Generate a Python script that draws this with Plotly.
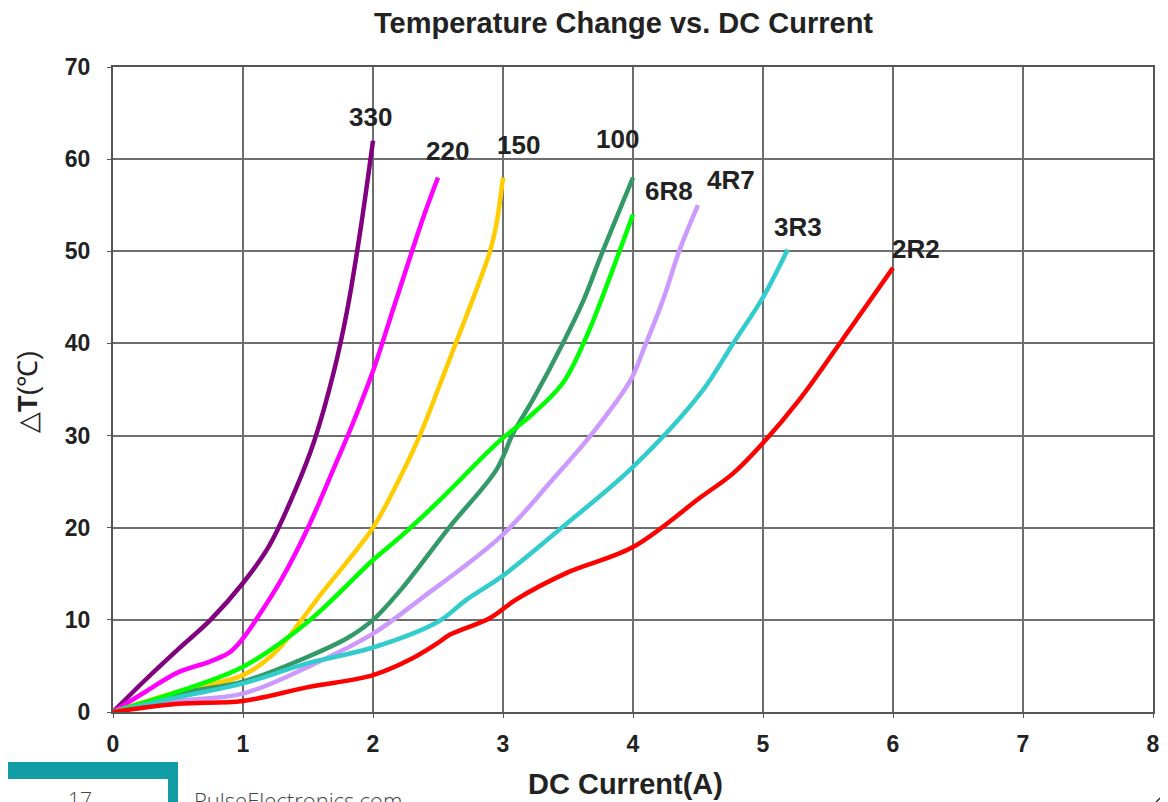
import plotly.graph_objects as go

# ---- data ----
x_330 = [0, 0.25, 0.5, 0.75, 1.0, 1.2, 1.4, 1.55, 1.7, 1.8, 1.9, 2.0]
y_330 = [0, 3.5, 6.8, 10, 14, 18, 24, 29.5, 37, 43.5, 52, 62]

x_220 = [0, 0.25, 0.5, 0.75, 0.9, 1.0, 1.1, 1.3, 1.5, 1.7, 1.85, 2.0, 2.15, 2.3, 2.4, 2.5]
y_220 = [0, 2.2, 4.3, 5.5, 6.5, 8, 10, 14.5, 20, 26.5, 31.5, 37, 43.5, 50, 54.2, 58]

x_150 = [0, 0.5, 1.0, 1.25, 1.44, 1.6, 1.8, 2.0, 2.2, 2.36, 2.5, 2.65, 2.8, 2.9, 2.95, 3.0]
y_150 = [0, 2.2, 4, 6.5, 9.8, 12.8, 16.3, 20, 25.2, 30, 35, 40.5, 46, 50, 53, 58]

x_100 = [0, 0.5, 1.0, 1.5, 1.8, 2.0, 2.21, 2.59, 2.95, 3.08, 3.23, 3.46, 3.62, 3.75, 4.0]
y_100 = [0, 2.0, 3.3, 6.0, 8, 10, 13.2, 20.1, 26.3, 30.3, 33.9, 40, 44.7, 49.4, 58]

x_6r8 = [0, 0.5, 1.0, 1.5, 2.0, 2.21, 2.5, 2.98, 3.2, 3.46, 3.65, 3.75, 4.0]
y_6r8 = [0, 2.2, 4.9, 9.8, 16.5, 19, 22.8, 29.5, 32, 35.7, 41, 44.5, 54]

x_4r7 = [0, 0.5, 1.0, 1.5, 2.0, 2.36, 2.98, 3.38, 3.69, 3.98, 4.08, 4.23, 4.36, 4.5]
y_4r7 = [0, 1.2, 2.0, 4.9, 8.5, 12.2, 19, 25.2, 30.3, 36, 39.3, 44.7, 50.2, 55]

x_3r3 = [0, 0.5, 1.0, 1.5, 2.0, 2.5, 2.72, 3.0, 3.46, 4.0, 4.52, 4.77, 5.0, 5.19]
y_3r3 = [0, 1.6, 3.1, 5.3, 7, 9.8, 12.2, 14.8, 20.1, 26.6, 34.6, 40, 45, 50.2]

x_2r2 = [0, 0.5, 1.0, 1.5, 2.0, 2.3, 2.5, 2.58, 2.9, 3.1, 3.49, 4.0, 4.52, 4.77, 5.0, 5.28, 5.59, 6.0]
y_2r2 = [0, 0.9, 1.2, 2.7, 4.0, 5.8, 7.5, 8.3, 10.2, 12.2, 15.1, 17.9, 23.3, 25.9, 29.2, 33.9, 40, 48.2]

series_names = ["330", "220", "150", "100", "6R8", "4R7", "3R3", "2R2"]
series_x = [x_330, x_220, x_150, x_100, x_6r8, x_4r7, x_3r3, x_2r2]
series_y = [y_330, y_220, y_150, y_100, y_6r8, y_4r7, y_3r3, y_2r2]
series_colors = ["#800080", "#FF00FF", "#FFCC00", "#339966", "#00FF00", "#CC99FF", "#33CCCC", "#FF0000"]

label_x = [1.98, 2.57, 3.12, 3.88, 4.28, 4.75, 5.27, 6.18]
label_y = [64.6, 60.9, 61.5, 62.2, 56.5, 57.7, 52.6, 50.2]

x_ticks = [0, 1, 2, 3, 4, 5, 6, 7, 8]
y_ticks = [0, 10, 20, 30, 40, 50, 60, 70]

FONT = "Liberation Sans, Arial, sans-serif"
TXT = "#222222"

fig = go.Figure()
for name, xs, ys, col in zip(series_names, series_x, series_y, series_colors):
    fig.add_trace(go.Scatter(x=xs, y=ys, mode="lines", name=name,
                             line=dict(color=col, width=4.5, shape="spline", smoothing=1.0),
                             showlegend=False, hoverinfo="skip"))

for name, lx, ly in zip(series_names, label_x, label_y):
    fig.add_annotation(x=lx, y=ly, text="<b>%s</b>" % name, showarrow=False,
                       xanchor="center", yanchor="middle",
                       font=dict(family=FONT, size=26, color=TXT))

axis_common = dict(showgrid=True, gridcolor="#6e6e6e", gridwidth=1.5,
                   showline=True, linecolor="#555555", linewidth=2, mirror=True,
                   zeroline=False, ticks="outside", ticklen=4, tickcolor="#555555",
                   automargin=False,
                   tickfont=dict(family=FONT, size=23, color=TXT, weight="bold"))

fig.update_xaxes(range=[0, 8], tickvals=x_ticks, ticktext=[str(v) for v in x_ticks],
                 ticklabelstandoff=6, **axis_common)
fig.update_yaxes(range=[0, 70], tickvals=y_ticks, ticktext=[str(v) for v in y_ticks],
                 ticklabelstandoff=12, **axis_common)

# page body has an 8px margin, so the figure is 8px smaller and shifted
OFF = 8
W, H = 1168 - OFF, 802 - OFF
L, R, T, B = 113 - OFF, W - (1153 - OFF), 67 - OFF, H - (712 - OFF)
pw, ph = W - L - R, H - T - B

def px(x):
    return (x - OFF - L) / pw

def py(y):
    return (H - B - (y - OFF)) / ph

def note(x, y, text, font, **kw):
    args = dict(x=px(x), y=py(y), xref="paper", yref="paper", showarrow=False,
                xanchor="center", yanchor="middle", text=text, font=font)
    args.update(kw)
    fig.add_annotation(**args)

# title & axis titles
note(623, 23, "<b>Temperature Change vs. DC Current</b>", dict(family=FONT, size=29, color=TXT))
note(625, 784, "<b>DC Current(A)</b>", dict(family=FONT, size=29, color=TXT))
note(28, 392, "△<b>T</b>(℃)", dict(family=FONT, size=27, color=TXT), textangle=-90)

# page footer elements
fig.add_shape(type="rect", xref="paper", yref="paper",
              x0=px(-2), x1=px(178), y0=py(830), y1=py(762),
              fillcolor="#129DA5", line=dict(width=0))
fig.add_shape(type="rect", xref="paper", yref="paper",
              x0=px(4), x1=px(168), y0=py(830), y1=py(779),
              fillcolor="white", line=dict(width=0))
note(80, 799, "17", dict(family="Open Sans", size=21, color="#444444", weight=300))
note(192, 800, "PulseElectronics.com", dict(family="Open Sans", size=22, color="#444444", weight=300),
     xanchor="left")
fig.add_shape(type="circle", xref="paper", yref="paper",
              x0=px(1152), x1=px(1192), y0=py(836), y1=py(794),
              line=dict(color="#333333", width=1.5))

fig.update_layout(width=W, height=H, margin=dict(l=L, r=R, t=T, b=B),
                  paper_bgcolor="white", plot_bgcolor="white",
                  font=dict(family=FONT, color=TXT))

fig.write_html("out.html")
